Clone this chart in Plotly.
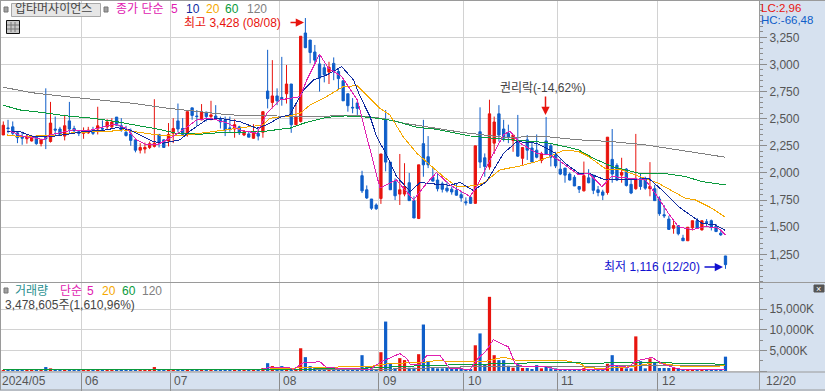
import plotly.graph_objects as go

W, H = 825, 391
FONT = "Liberation Sans, Noto Sans CJK KR"
RED, BLUE = "#e8140e", "#0f5ec9"
MAGENTA, NAVY, ORANGE, GREEN, GREY = "#e020b0", "#0f2a9e", "#f5a800", "#0a9a3c", "#808080"

opens = [2350,2415,2425,2370,2335,2315,2295,2330,2270,2330,
         2290,2405,2405,2340,2480,2410,2380,2365,2370,2395,
         2405,2410,2425,2425,2515,2435,2375,2360,2305,2210,
         2220,2235,2245,2355,2305,2295,2365,2480,2410,2355,
         2600,2525,2490,2560,2520,2525,2495,2490,2415,2405,
         2425,2350,2360,2320,2365,2375,2755,2650,2710,2695,
         2730,2820,2445,2475,3290,3225,3115,3005,2970,2930,
         3010,2935,2850,2730,2605,2645,1975,1845,1760,1705,
         1765,2490,2100,1920,1805,1805,1910,1745,1580,2270,
         2150,1960,1935,1900,1860,1850,1840,1800,1735,1775,
         1720,2380,2140,2055,2275,2545,2405,2365,2300,2300,
         2135,2305,2230,2210,2115,2295,2250,2170,2035,2045,
         1990,1960,1875,1835,1955,1980,1845,1825,1820,2125,
         2070,1980,2035,1895,1855,1950,1950,1855,1855,1760,
         1615,1575,1490,1515,1400,1375,1495,1560,1475,1550,
         1560,1510,1445,1235]
highs = [2475,2490,2475,2380,2380,2355,2350,2350,2310,2780,
         2655,2520,2425,2535,2655,2435,2395,2420,2425,2425,
         2610,2485,2495,2505,2515,2505,2435,2410,2305,2275,
         2280,2290,2680,2355,2310,2460,2505,2640,2505,2565,
         2600,2580,2635,2565,2665,2625,2520,2520,2520,2495,
         2435,2395,2380,2450,2410,2565,3135,3040,2780,3070,
         2995,2820,2640,3260,3428,3225,3180,3085,3005,3025,
         3065,2965,2850,2730,2690,2660,2020,1885,1760,1720,
         2175,2580,2100,1950,2175,2090,2000,1785,2075,2490,
         2340,2045,2000,1920,1920,1875,1905,1835,1775,1790,
         2250,2605,2180,2675,2520,2625,2490,2445,2350,2535,
         2235,2350,2290,2355,2195,2515,2275,2195,2125,2045,
         2005,1980,1875,2105,2035,1980,1880,1845,2330,2405,
         2090,2140,2045,1935,2360,2000,1965,2100,1890,1785,
         1705,1605,1560,1515,1430,1500,1560,1585,1560,1575,
         1570,1530,1475,1236]
lows = [2350,2365,2350,2275,2260,2270,2290,2260,2245,2220,
        2280,2350,2340,2300,2370,2365,2340,2315,2360,2350,
        2355,2390,2405,2410,2435,2380,2335,2250,2190,2180,
        2180,2220,2235,2235,2230,2245,2275,2375,2340,2335,
        2490,2435,2485,2475,2485,2490,2410,2340,2380,2325,
        2350,2340,2330,2315,2300,2325,2595,2595,2625,2620,
        2640,2370,2440,2465,3150,3010,3005,2750,2835,2820,
        2855,2765,2665,2565,2550,2535,1815,1760,1660,1660,
        1715,2015,1845,1750,1705,1785,1745,1585,1575,1965,
        2045,1920,1830,1820,1820,1800,1790,1735,1700,1715,
        1715,2045,1965,2030,2175,2290,2290,2275,2195,2150,
        2075,2120,2090,2135,2090,2165,2060,2045,1980,1910,
        1930,1880,1815,1830,1905,1805,1785,1750,1800,1910,
        1925,1910,1875,1805,1845,1845,1845,1785,1745,1605,
        1585,1475,1440,1425,1375,1375,1470,1490,1470,1510,
        1470,1455,1420,1116]
closes = [2440,2410,2365,2325,2320,2340,2330,2270,2310,2315,
          2460,2395,2355,2435,2405,2390,2365,2390,2395,2365,
          2435,2405,2470,2470,2440,2395,2345,2300,2210,2235,
          2235,2270,2275,2280,2235,2355,2410,2405,2355,2565,
          2530,2520,2560,2520,2535,2495,2470,2395,2410,2445,
          2370,2380,2330,2365,2340,2565,2685,2710,2665,2685,
          2820,2445,2520,3260,3155,3110,3040,2875,2905,2975,
          2935,2870,2665,2620,2600,2595,1835,1770,1675,1670,
          2175,2100,1845,1790,1845,1875,1745,1585,2075,2075,
          2075,1925,1855,1850,1835,1825,1795,1770,1725,1720,
          2250,2100,2060,2545,2470,2350,2320,2330,2350,2155,
          2235,2210,2100,2145,2175,2175,2145,2065,1990,1980,
          1935,1880,1850,1975,1910,1840,1820,1795,2330,1990,
          1935,2005,1885,1815,1950,1875,1860,1875,1745,1625,
          1605,1480,1515,1440,1375,1500,1560,1495,1560,1545,
          1500,1460,1430,1155]
volume_k = [240,160,200,160,150,180,150,200,160,960,
            640,240,160,260,300,160,120,180,130,150,
            260,130,160,180,240,180,140,220,240,140,
            120,130,960,260,180,200,220,300,160,400,
            260,140,220,130,200,150,130,200,110,180,
            130,110,100,200,150,700,1900,1200,480,1200,
            640,320,400,5520,3360,1200,800,800,800,640,
            640,560,400,320,320,320,3840,1040,640,320,
            4560,12000,1840,720,3120,2640,800,800,4080,11280,
            2400,960,640,640,800,320,320,320,320,480,
            6240,9120,1600,18000,3840,2640,2640,1280,800,1600,
            720,720,480,1440,640,1040,640,640,320,320,
            320,320,320,700,320,320,320,320,1760,3840,
            1280,960,640,640,8400,2400,640,3040,2080,720,
            720,720,960,560,480,320,320,320,320,320,
            320,320,320,3479]

ma5_x = [1.4,4.2,6.4,8.5,9.9,12.7,14.8,17.7,21.2,23.7,26.1,28.2,30.4,32.5,35.3,38.1,41,43.8,47.3,50.1,53.7,55.8,58.6,60.7,62.9,64.3,67,68.9,71.7,75,77.7,79.8,83.3,86.9,89.7,91.8,94.6,98.9,100.3,103.1,106,107.3,109.5,113,115.8,117.6,121.9,124,126.8,128.9,132.5,136,138.1,140.9,143,145.9,148.7,151.5,153]
ma5_y = [2387,2335,2326,2305,2351,2381,2397,2387,2427,2452,2412,2305,2259,2259,2320,2397,2489,2504,2464,2397,2366,2550,2673,2688,2704,2857,3094,2965,2888,2673,2212,1860,1936,1752,1905,2004,1890,1783,1875,2120,2351,2387,2274,2182,2166,2120,1982,1998,1875,1967,1952,1936,1813,1629,1506,1476,1506,1491,1430]
ma10_x = [0.7,3.5,6.4,9.9,12.7,17,21.9,24,26.8,29,31.8,33.9,37.4,39.9,43,45.9,50.1,53.7,55.8,58.6,60.7,63.6,65.7,68.5,71.7,74.2,75.6,77.7,79.1,81.2,83.3,86.2,88.3,91.1,94.6,96.8,99.6,102.4,106,108.8,113,115.8,116.9,119,121.9,124,127.5,131,133.9,136.7,139.5,143,145.9,148,150.8,153]
ma10_y = [2381,2381,2335,2335,2351,2381,2397,2418,2397,2351,2289,2274,2305,2397,2489,2504,2473,2412,2443,2513,2535,2765,2857,2903,2980,2857,2704,2520,2335,2166,1967,1829,1912,1899,1887,1912,1838,1921,2182,2289,2274,2212,2182,2090,1998,1998,1936,1936,1936,1952,1844,1691,1598,1537,1522,1470]
ma20_x = [0.7,3.5,7,11,14.8,19.8,23.3,25.4,29.7,32.5,37.4,41.7,47.3,51.6,55,56.5,58.6,60.7,62.9,65,68.5,72,75,77.7,79.8,81.9,84.7,87.6,90.4,93.2,96,99.6,101.7,105.2,109.5,113,115.8,116.9,119,121.9,124,127.9,131,133.9,138.8,144.5,146.6,150.1,153]
ma20_y = [2351,2335,2341,2341,2372,2378,2387,2397,2372,2351,2341,2366,2397,2427,2443,2504,2513,2526,2550,2627,2704,2796,2805,2688,2596,2535,2335,2182,2074,1967,1875,1881,1905,2028,2065,2105,2151,2176,2212,2197,2151,2028,2028,1982,1905,1767,1752,1675,1592]
ma60_x = [0,3.5,8.5,13.4,19,24,29,32.5,36.7,41.7,46,50,55,58.6,60.7,63.6,68.5,72.4,77.7,82.6,87.6,91.8,96,98.9,106,115,119,121.9,125.4,129,134.6,139.5,144.5,148,153]
ma60_y = [2624,2581,2556,2526,2504,2473,2433,2406,2366,2357,2372,2375,2381,2403,2412,2458,2513,2526,2513,2483,2421,2403,2366,2341,2311,2280,2243,2212,2127,2059,1998,1998,1967,1921,1890]
ma120_x = [0,6,13,20,27.5,35,42,48,58,63.5,75,80,85,90.5,97.5,106,115,122,129,136,143,153]
ma120_y = [2790,2740,2705,2673,2642,2596,2565,2535,2525,2520,2530,2505,2458,2421,2372,2329,2335,2305,2289,2259,2212,2145]

vol5_x = [55,56.5,60.4,61.4,63.6,67.1,68.5,74.9,77.7,79.8,84,85.5,86.2,88.3,89.7,92.5,94.6,98.9,100.6,102.4,103.8,107,108.4,110.2,115.8,116.9,127.5,128.9,132.5,133.9,137.4,139.5,142,144.5,152.2,153]
vol5_y = [640,800,880,400,2000,2240,800,400,400,2080,4240,3040,1600,1600,3760,3760,640,400,3040,5040,7600,5840,1840,1040,960,400,400,1440,880,2400,3280,1840,800,240,240,300]
vol20_x = [0,56.5,63.6,68.5,77.7,82,89,91.8,95.3,101.7,106,108.8,115.8,119,122.6,123.3,127.5,133.2,138.1,144.5,148.7,153]
vol20_y = [240,480,800,960,1120,1840,2080,2560,2240,2240,3360,2560,2560,2560,1600,800,640,1040,2080,1040,1040,1280]
vol60_x = [0,56,75.6,88.3,115.8,121.9,122.6,133.9,147.3,153]
vol60_y = [320,320,640,1280,2080,2080,1840,2080,1840,1600]
vol120_x = [0,56,80,99,115,153]
vol120_y = [320,320,400,1040,1120,1360]

month_pos = [16.5,35.4,58.5,79.5,97.5,117.4,138.6]
month_labels = ["06","07","08","09","10","11","12"]
price_ticks = [1250,1500,1750,2000,2250,2500,2750,3000,3250]
vol_ticks = [0,5000,10000,15000]
vol_tick_labels = ["","5,000K","10,000K","15,000K"]

x = list(range(len(closes)))
vol_colors = [RED if c >= o else BLUE for o, c in zip(opens, closes)]
px = lambda v: v / W
py = lambda v: 1 - v / H

fig = go.Figure()
fig.add_trace(go.Candlestick(x=x, open=opens, high=highs, low=lows, close=closes, xaxis="x", yaxis="y",
    whiskerwidth=0,
    increasing=dict(line=dict(color=RED, width=1), fillcolor=RED),
    decreasing=dict(line=dict(color=BLUE, width=1), fillcolor=BLUE), hoverinfo="skip"))
for xs, ys, col, w in [(ma120_x, ma120_y, GREY, 1), (ma60_x, ma60_y, GREEN, 1), (ma20_x, ma20_y, ORANGE, 1),
                       (ma10_x, ma10_y, NAVY, 1), (ma5_x, ma5_y, MAGENTA, 1)]:
    fig.add_trace(go.Scatter(x=xs, y=ys, mode="lines", line=dict(color=col, width=w), xaxis="x", yaxis="y", hoverinfo="skip"))
fig.add_trace(go.Bar(x=x, y=volume_k, marker=dict(color=vol_colors, line_width=0), width=0.68, xaxis="x2", yaxis="y2", hoverinfo="skip"))
for xs, ys, col in [(vol120_x, vol120_y, GREY), (vol20_x, vol20_y, ORANGE), (vol60_x, vol60_y, GREEN), (vol5_x, vol5_y, MAGENTA)]:
    fig.add_trace(go.Scatter(x=xs, y=ys, mode="lines", line=dict(color=col, width=1), xaxis="x2", yaxis="y2", hoverinfo="skip"))

GRID = "#d2d2d2"
TICK = "#8c8c8c"
LBL = "#555555"
xcommon = dict(range=[-0.7, 160.1], domain=[0, 759 / W], tickmode="array", tickvals=month_pos, showticklabels=False,
               showgrid=True, gridcolor=GRID, gridwidth=1, zeroline=False, showline=False)
fig.update_layout(
    width=W, height=H, margin=dict(l=0, r=0, t=0, b=0), autosize=False,
    paper_bgcolor="#d6e1ef", plot_bgcolor="#ffffff", showlegend=False, barmode="overlay",
    font=dict(family=FONT, size=12, color=LBL),
    xaxis=dict(anchor="y", rangeslider=dict(visible=False), ticks="", matches="x2", **xcommon),
    xaxis2=dict(anchor="y2", rangeslider=dict(visible=False), ticks="outside", ticklen=18, tickcolor=TICK, **xcommon),
    yaxis=dict(domain=[(H - 282) / H, (H - 1) / H], range=[995, 3585], side="right", anchor="x",
               tickmode="array", tickvals=price_ticks, tickformat=",", ticks="outside", ticklen=7, tickcolor=TICK,
               tickfont=dict(family=FONT, size=12, color=LBL), gridcolor=GRID, gridwidth=1, zeroline=False,
               minor=dict(dtick=50, tick0=0, ticks="outside", ticklen=3, tickcolor=TICK, showgrid=False)),
    yaxis2=dict(domain=[(H - 372) / H, (H - 282) / H], range=[-243, 21600], side="right", anchor="x2",
                tickmode="array", tickvals=vol_ticks, ticktext=vol_tick_labels, ticks="outside", ticklen=7, tickcolor=TICK,
                tickfont=dict(family=FONT, size=12, color=LBL), gridcolor=GRID, gridwidth=1, zeroline=False,
                minor=dict(dtick=2500, tick0=0, ticks="outside", ticklen=3, tickcolor=TICK, showgrid=False)),
)

def line(x0, y0, x1, y1, col="#9a9a9a", w=1):
    return dict(type="line", xref="paper", yref="paper", x0=px(x0), y0=py(y0), x1=px(x1), y1=py(y1), line=dict(color=col, width=w), layer="above")
def rect(x0, y0, x1, y1, fill, col, w=1):
    return dict(type="rect", xref="paper", yref="paper", x0=px(x0), y0=py(y0), x1=px(x1), y1=py(y1), fillcolor=fill, line=dict(color=col, width=w), layer="above")

shapes = [line(0, 0.5, W, 0.5), line(0.5, 0, 0.5, 390), line(0, 282.5, W, 282.5), line(0, 372, W, 372),
          line(0, 390, W, 390), line(759.5, 0, 759.5, 390),
          rect(11.5, 3.5, 100.5, 16.5, "#e6e6e6", "#a8a8a8"),
          rect(4, 7, 8, 12, "#a0a0a0", "#777777"), rect(104, 7, 108, 12, "#a0a0a0", "#777777"),
          rect(4, 288, 8, 293, "#a0a0a0", "#777777"),
          rect(6.5, 20.5, 19.5, 33.5, "#c8c8c8", "#111111"),
          line(11, 22, 11, 32, "#777777"), line(15, 22, 15, 32, "#777777"), line(7, 25, 19, 25, "#777777"), line(7, 29, 19, 29, "#777777"),
          rect(814, 285, 824, 292, "#555555", "#555555")]
fig.update_layout(shapes=shapes)

def txt(s, x0, y0, col=LBL, size=12):
    fig.add_annotation(text=s, xref="paper", yref="paper", x=px(x0), y=py(y0), xanchor="left", yanchor="middle",
                       showarrow=False, font=dict(family=FONT, size=size, color=col), borderpad=0, borderwidth=0)

txt("압타머사이언스", 15, 9, "#444444")
txt("종가 단순", 116, 9, MAGENTA)
txt("5", 171, 9, MAGENTA); txt("10", 186, 9, NAVY); txt("20", 206, 9, ORANGE); txt("60", 225, 9, GREEN); txt("120", 247, 9, GREY)
txt("최고 3,428 (08/08)", 184, 23, RED)
txt("권리락(-14,62%)", 500, 87.5, "#444444")
txt("최저 1,116 (12/20)", 604, 266.5, "#1010d0")
txt("LC:2,96", 761, 7.5, RED, 11.5); txt("HC:-66,48", 761, 20.5, BLUE, 11.5)
txt("거래량", 15, 290.5, "#2a8f8f"); txt("단순", 60, 290.5, MAGENTA); txt("5", 87, 290.5, MAGENTA); txt("20", 102, 290.5, ORANGE)
txt("60", 122, 290.5, GREEN); txt("120", 142, 290.5, GREY)
txt("3,478,605주(1,610,96%)", 5, 304.5, "#444444")
txt("×", 816, 288.5, "#ffffff", 9)
txt("2024/05", 2, 381, LBL)
for p, s in zip(month_pos, month_labels):
    fig.add_annotation(text=s, xref="x2", yref="paper", x=p, y=py(381), xanchor="left", yanchor="middle", xshift=2,
                       showarrow=False, font=dict(family=FONT, size=12, color=LBL))
txt("12/20", 766, 381, LBL)

def arrow(x1, y1, x0, y0, col):
    fig.add_annotation(xref="paper", yref="paper", axref="pixel", ayref="pixel", x=px(x1), y=py(y1), ax=x0 - x1, ay=y0 - y1,
                       text="", showarrow=True, arrowhead=2, arrowsize=1.1, arrowwidth=1.5, arrowcolor=col, standoff=0)
arrow(304, 22.5, 289, 22.5, RED)
arrow(545.5, 115, 545.5, 95, RED)
arrow(723, 267, 703, 267, "#1010d0")

post = """
document.body.style.margin='0';document.body.style.overflow='hidden';
var st=document.createElement('style');
st.textContent='.scatterlayer path.js-line{shape-rendering:crispEdges !important;}';
document.head.appendChild(st);
"""
fig.write_html("out.html", include_plotlyjs=True, config=dict(displayModeBar=False), post_script=post)
